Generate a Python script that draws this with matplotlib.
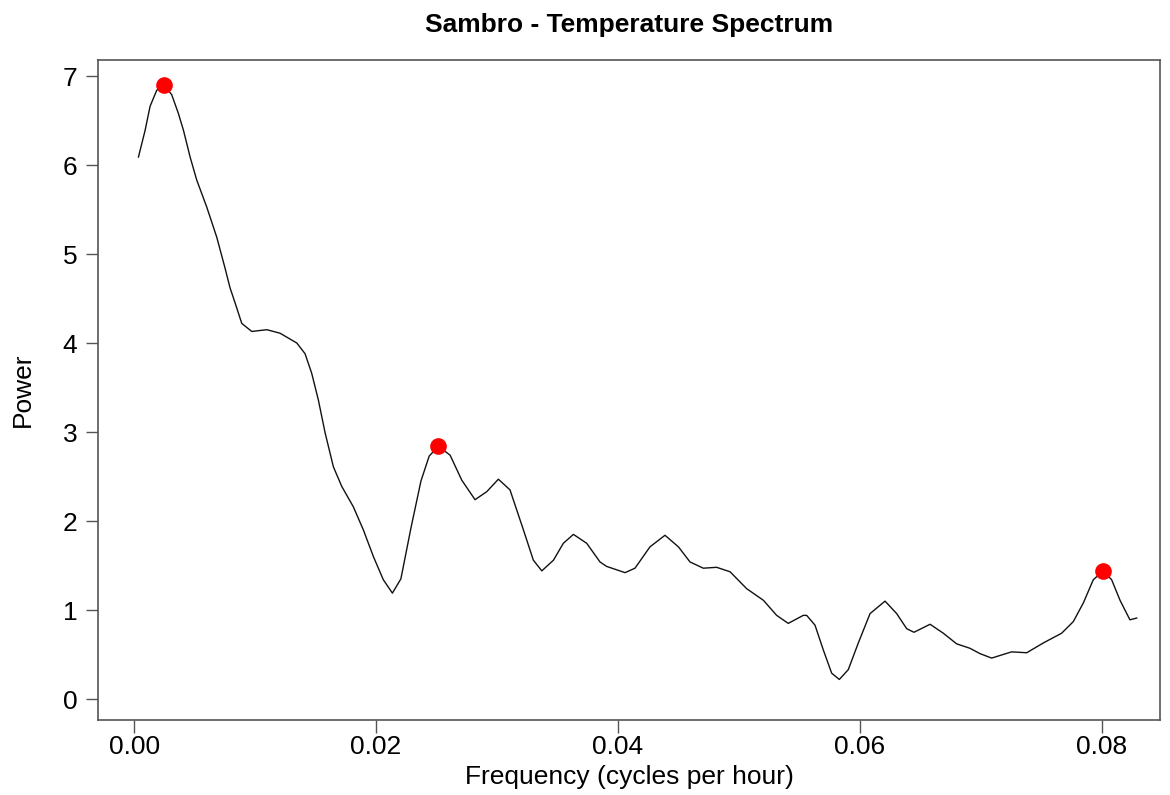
import numpy as np
import matplotlib
matplotlib.use('Agg')
import matplotlib.pyplot as plt

plt.rcParams['font.family'] = ['Liberation Sans', 'DejaVu Sans']

# smoothed spectrum of the Sambro temperature record
freq = [0.00036, 0.00091, 0.00132, 0.00187, 0.00248, 0.00311, 0.00366, 0.00408,
        0.00463, 0.00518, 0.0060, 0.00683, 0.00752, 0.00793, 0.00835, 0.0089,
        0.00973, 0.01097, 0.01207, 0.01345, 0.01413, 0.01468, 0.01523, 0.01579,
        0.01647, 0.01716, 0.01812, 0.01895, 0.01978, 0.0206, 0.02135, 0.02205,
        0.02288, 0.02371, 0.02439, 0.02515, 0.02612, 0.02708, 0.02818, 0.02915,
        0.03011, 0.03107, 0.03218, 0.0330, 0.0337, 0.03466, 0.03548, 0.03631,
        0.03741, 0.03851, 0.03906, 0.04058, 0.0414, 0.04264, 0.04388, 0.04499,
        0.04595, 0.04705, 0.04815, 0.04926, 0.05063, 0.05201, 0.05311, 0.05407,
        0.05531, 0.05559, 0.05628, 0.05697, 0.05766, 0.05829, 0.05903, 0.05986,
        0.06083, 0.06207, 0.06303, 0.06386, 0.06446, 0.06579, 0.06688, 0.06799,
        0.06909, 0.06992, 0.07088, 0.07253, 0.07378, 0.07515, 0.07667, 0.07763,
        0.07846, 0.07928, 0.0801, 0.0808, 0.08149, 0.08231, 0.08287]
power = [6.09, 6.39, 6.66, 6.84, 6.90, 6.79, 6.58, 6.39,
         6.09, 5.83, 5.53, 5.19, 4.84, 4.62, 4.45, 4.22,
         4.13, 4.15, 4.11, 4.00, 3.88, 3.66, 3.36, 2.99,
         2.61, 2.39, 2.16, 1.90, 1.60, 1.34, 1.19, 1.35,
         1.92, 2.45, 2.73, 2.84, 2.74, 2.46, 2.24, 2.33,
         2.47, 2.35, 1.90, 1.56, 1.44, 1.56, 1.75, 1.85,
         1.75, 1.54, 1.49, 1.42, 1.47, 1.71, 1.84, 1.71,
         1.54, 1.47, 1.48, 1.43, 1.24, 1.11, 0.94, 0.85,
         0.94, 0.94, 0.83, 0.55, 0.29, 0.22, 0.33, 0.63,
         0.96, 1.10, 0.96, 0.79, 0.75, 0.84, 0.74, 0.62,
         0.57, 0.51, 0.46, 0.53, 0.52, 0.63, 0.74, 0.87,
         1.08, 1.34, 1.44, 1.34, 1.11, 0.89, 0.91]

# highlighted peaks
peak_freq = [0.00248, 0.02515, 0.0801]
peak_power = [6.90, 2.84, 1.44]

fig = plt.figure(figsize=(11.7, 7.95), dpi=100)
ax = fig.add_axes([0.0838, 0.0943, 0.9077, 0.8302])

ax.plot(freq, power, color='#111111', linewidth=1.0, solid_joinstyle='round')
ax.plot(peak_freq, peak_power, 'o', color='red', markersize=12, markeredgewidth=0)

ax.set_xlim(-0.00298, 0.0848)
ax.set_ylim(-0.236, 7.18)
ax.set_xticks([0.00, 0.02, 0.04, 0.06, 0.08])
ax.set_xticklabels(['0.00', '0.02', '0.04', '0.06', '0.08'])
ax.set_yticks(range(0, 8))

for s in ax.spines.values():
    s.set_color('#555555')
    s.set_linewidth(1.2)
ax.tick_params(direction='out', length=9, width=1, color='#555555', labelsize=19)
ax.tick_params(axis='x', pad=2)
ax.tick_params(axis='y', pad=6)

ax.set_title('Sambro - Temperature Spectrum', fontsize=19, fontweight='bold', pad=20)
ax.set_xlabel('Frequency (cycles per hour)', fontsize=19, labelpad=4)
ax.set_ylabel('Power', fontsize=19, labelpad=20)

fig.savefig('out.png', dpi=100)
